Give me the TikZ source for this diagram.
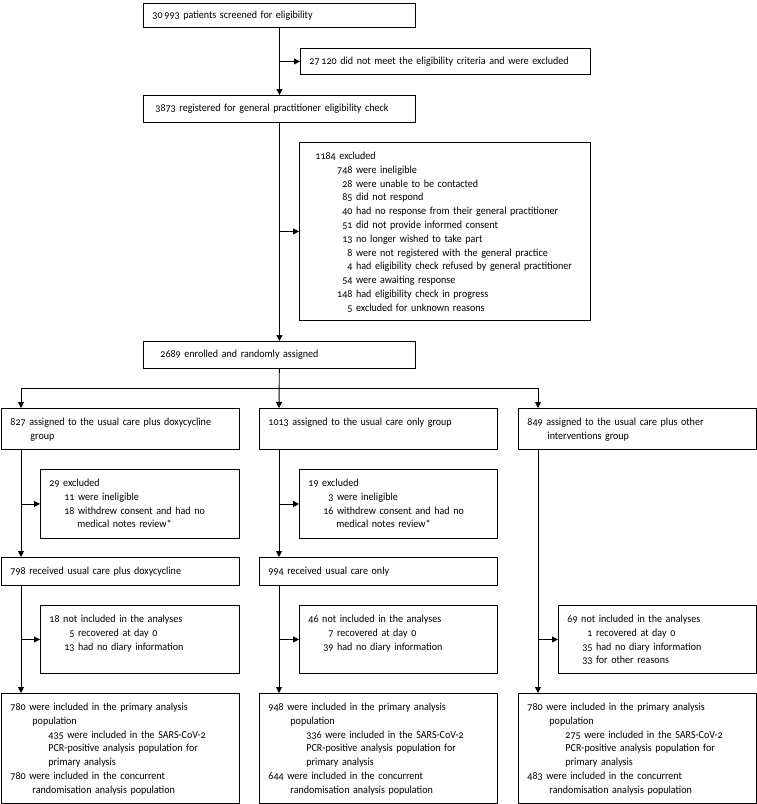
\documentclass[tikz,border=0pt]{standalone}
\usepackage{fontspec}
\setmainfont{Carlito}[Numbers=OldStyle, FakeStretch=0.93]
\usepackage{tikz}
\usetikzlibrary{arrows.meta}

\newcommand{\cnt}[1]{\makebox[16pt][r]{#1}\ }

\begin{document}
\begin{tikzpicture}[
  x=1pt,
  y=-1pt,
  box/.style={
    rectangle,
    draw=black,
    line width=0.9pt,
    anchor=north west,
    align=left,
    inner xsep=9pt,
    inner ysep=0pt,
    minimum height=27pt,
    text width=#1-18pt,
    font=\fontsize{10.8}{13.8}\selectfont
  },
  tall/.style={
    text height=17pt,
    text depth=#1-17pt
  },
  arrow/.style={
    -{Triangle[length=6pt,width=6pt]},
    line width=0.9pt,
    draw=black
  }
]
\useasboundingbox (0,0) rectangle (757,804);

% screening
\node[box=272, minimum height=24pt] (screened) at (143,3) {30\,993 patients screened for eligibility};
\node[box=290, minimum height=26pt] (notmet) at (300,48) {27\,120 did not meet the eligibility criteria and were excluded};
\node[box=272] (registered) at (143,95) {\hspace*{3pt}3873 registered for general practitioner eligibility check};
\node[box=291, tall=178pt, inner xsep=6pt, text width=279pt] (excluded) at (299,142) {\hspace*{10pt}1184 excluded\\
  \hspace*{31pt}\cnt{748}were ineligible\\
  \hspace*{31pt}\cnt{28}were unable to be contacted\\
  \hspace*{31pt}\cnt{85}did not respond\\
  \hspace*{31pt}\cnt{40}had no response from their general practitioner\\
  \hspace*{31pt}\cnt{51}did not provide informed consent\\
  \hspace*{31pt}\cnt{13}no longer wished to take part\\
  \hspace*{31pt}\cnt{8}were not registered with the general practice\\
  \hspace*{31pt}\cnt{4}had eligibility check refused by general practitioner\\
  \hspace*{31pt}\cnt{54}were awaiting response\\
  \hspace*{31pt}\cnt{148}had eligibility check in progress\\
  \hspace*{31pt}\cnt{5}excluded for unknown reasons};
\node[box=272] (enrolled) at (143,341) {\hspace*{8pt}2689 enrolled and randomly assigned};

% groups
\node[box=238, tall=41pt] (doxy) at (1,408) {827 assigned to the usual care plus doxycycline\\ \hspace*{20pt}group};
\node[box=238, tall=41pt] (usual) at (259,408) {1013 assigned to the usual care only group};
\node[box=238, tall=41pt] (other) at (518,408) {849 assigned to the usual care plus other\\ \hspace*{20pt}interventions group};

\node[box=199, tall=69pt] (doxyexcl) at (40,469) {29 excluded\\
  \hspace*{9pt}\cnt{11}were ineligible\\
  \hspace*{9pt}\cnt{18}withdrew consent and had no\\
  \hspace*{28pt}medical notes review*};
\node[box=198, tall=69pt] (usualexcl) at (299,469) {19 excluded\\
  \hspace*{9pt}\cnt{3}were ineligible\\
  \hspace*{9pt}\cnt{16}withdrew consent and had no\\
  \hspace*{28pt}medical notes review*};

\node[box=238, minimum height=28pt] (doxyrecv) at (1,557) {798 received usual care plus doxycycline};
\node[box=238, minimum height=28pt] (usualrecv) at (259,557) {994 received usual care only};

\node[box=199, tall=68pt] (doxyni) at (40,605) {18 not included in the analyses\\
  \hspace*{9pt}\cnt{5}recovered at day 0\\
  \hspace*{9pt}\cnt{13}had no diary information};
\node[box=198, tall=68pt] (usualni) at (299,605) {46 not included in the analyses\\
  \hspace*{9pt}\cnt{7}recovered at day 0\\
  \hspace*{9pt}\cnt{39}had no diary information};
\node[box=198, tall=68pt] (otherni) at (558,605) {69 not included in the analyses\\
  \hspace*{9pt}\cnt{1}recovered at day 0\\
  \hspace*{9pt}\cnt{35}had no diary information\\
  \hspace*{9pt}\cnt{33}for other reasons};

% analysis populations
\node[box=238, tall=110pt] (doxyfinal) at (1,693) {780 were included in the primary analysis\\
  \hspace*{22pt}population\\
  \hspace*{38pt}435 were included in the SARS-CoV-2\\
  \hspace*{38pt}PCR-positive analysis population for\\
  \hspace*{38pt}primary analysis\\
  780 were included in the concurrent\\
  \hspace*{22pt}randomisation analysis population};
\node[box=238, tall=110pt] (usualfinal) at (259,693) {948 were included in the primary analysis\\
  \hspace*{22pt}population\\
  \hspace*{38pt}336 were included in the SARS-CoV-2\\
  \hspace*{38pt}PCR-positive analysis population for\\
  \hspace*{38pt}primary analysis\\
  644 were included in the concurrent\\
  \hspace*{22pt}randomisation analysis population};
\node[box=238, tall=110pt] (otherfinal) at (518,693) {780 were included in the primary analysis\\
  \hspace*{22pt}population\\
  \hspace*{38pt}275 were included in the SARS-CoV-2\\
  \hspace*{38pt}PCR-positive analysis population for\\
  \hspace*{38pt}primary analysis\\
  483 were included in the concurrent\\
  \hspace*{22pt}randomisation analysis population};

\coordinate (split) at (279,388);
\coordinate (doxycol) at (21,388);
\coordinate (othercol) at (538,388);

\draw[arrow] (screened) -- (registered);
\draw[arrow] (screened |- notmet) -- (notmet);
\draw[arrow] (registered) -- (enrolled);
\draw[arrow] (registered |- excluded) -- (excluded);

\draw[arrow] (enrolled) -- (usual.north -| split);
\draw[arrow] (split) -| (doxy.north -| doxycol);
\draw[arrow] (split) -| (other.north -| othercol);

\draw[arrow] (doxy.south -| doxycol) -- (doxyrecv.north -| doxycol);
\draw[arrow] (doxyexcl.west -| doxycol) -- (doxyexcl.west);
\draw[arrow] (doxyrecv.south -| doxycol) -- (doxyfinal.north -| doxycol);
\draw[arrow] (doxyni.west -| doxycol) -- (doxyni.west);

\draw[arrow] (usual.south -| split) -- (usualrecv.north -| split);
\draw[arrow] (usualexcl.west -| split) -- (usualexcl.west);
\draw[arrow] (usualrecv.south -| split) -- (usualfinal.north -| split);
\draw[arrow] (usualni.west -| split) -- (usualni.west);

\draw[arrow] (other.south -| othercol) -- (otherfinal.north -| othercol);
\draw[arrow] (otherni.west -| othercol) -- (otherni.west);

\end{tikzpicture}
\end{document}
